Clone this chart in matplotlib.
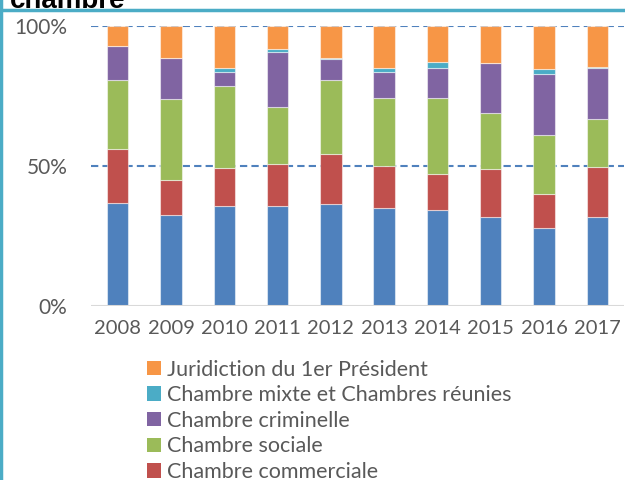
import matplotlib
matplotlib.use("Agg")
import matplotlib.pyplot as plt
from matplotlib.patches import Patch
from matplotlib.lines import Line2D
import numpy as np

years = ["2008", "2009", "2010", "2011", "2012", "2013", "2014", "2015", "2016", "2017"]
series_names = ["Chambres civiles", "Chambre commerciale", "Chambre sociale",
                "Chambre criminelle", "Chambre mixte et Chambres réunies",
                "Juridiction du 1er Président"]
civile = [36.6, 32.3, 35.6, 35.6, 36.3, 34.8, 34.1, 31.6, 27.8, 31.6]
commerciale = [19.5, 12.5, 13.7, 15.2, 18.0, 15.1, 12.9, 17.4, 12.0, 17.9]
sociale = [24.5, 28.9, 29.2, 20.2, 26.3, 24.3, 27.2, 19.7, 21.3, 17.3]
criminelle = [12.3, 14.9, 4.9, 19.5, 7.4, 9.2, 10.6, 18.1, 21.5, 18.0]
mixte = [0.0, 0.0, 1.4, 1.3, 0.5, 1.4, 2.1, 0.0, 1.8, 0.6]
president = [7.1, 11.4, 15.2, 8.2, 11.5, 15.2, 13.1, 13.2, 15.6, 14.6]
series = [civile, commerciale, sociale, criminelle, mixte, president]
colors = ["#4F81BD", "#C0504D", "#9BBB59", "#8064A2", "#4BACC6", "#F79646"]

plt.rcParams['font.family'] = ['Lato', 'DejaVu Sans']
txt = "#595959"

fig = plt.figure(figsize=(6.25, 4.8), dpi=100)
ax = fig.add_axes([91/625, 1-306/480, 533/625, (306-25.7)/480])

x = np.arange(len(years))
bottom = np.zeros(len(years))
handles = []
for vals, name, c in zip(series, series_names, colors):
    v = np.array(vals)
    ax.bar(x, v, 0.4, bottom=bottom, color=c, edgecolor=(1, 1, 1, 0.5), linewidth=0.8, zorder=3)
    bottom += v
    handles.append(Patch(facecolor=c, edgecolor='none', label=name))

ax.set_xlim(-0.5, 9.5)
ax.set_ylim(0, 100)
ax.set_yticks([0, 50, 100])
ax.set_yticklabels(["0%", "50%", "100%"])
for yv in [50, 100]:
    ax.axhline(yv, color="#4F81BD", linestyle=(0, (3.5, 2)), linewidth=1.5, zorder=2)
ax.axhline(0, color="#D9D9D9", linewidth=1.5, zorder=4)
ax.set_xticks(x)
ax.set_xticklabels(years)
for s in ax.spines.values():
    s.set_visible(False)
ax.tick_params(length=0, labelsize=14.5, colors=txt, pad=10)
ax.tick_params(axis='y', labelsize=15, pad=17)

leg = fig.legend(handles=handles[::-1], loc='upper left',
                 bbox_to_anchor=(138/625, 1-351/480), frameon=False,
                 fontsize=15.5, handlelength=0.65, handleheight=0.65,
                 handletextpad=0.3, labelspacing=0.26, borderaxespad=0)
for t in leg.get_texts():
    t.set_color(txt)

# frame lines and clipped title
fig.add_artist(Line2D([1.5/625, 1.5/625], [0, 1], color="#4BACC6", linewidth=2.5))
fig.add_artist(Line2D([0, 1], [1-10/480, 1-10/480], color="#4BACC6", linewidth=2.5))
fig.text(10/625, 1-8/480, "chambre", fontsize=20, fontweight='bold', color='black',
         family=['Liberation Sans', 'DejaVu Sans'], va='baseline', ha='left')

fig.savefig("out.png", dpi=100)
